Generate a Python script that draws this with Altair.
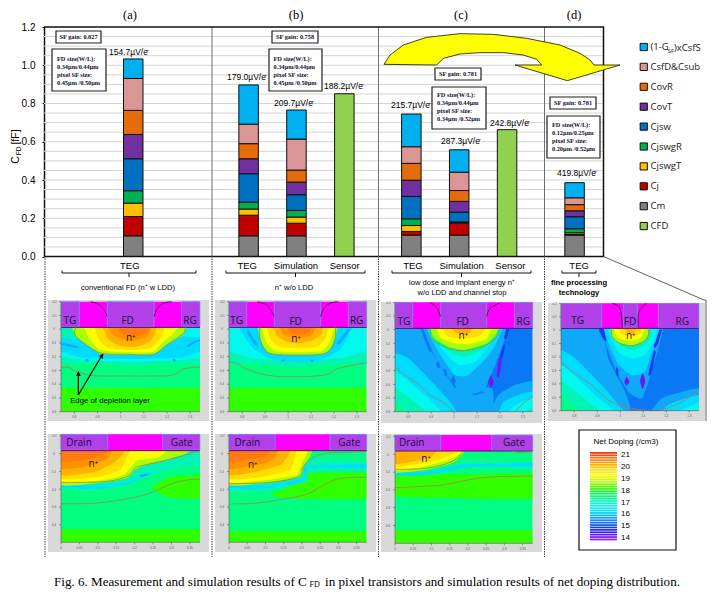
import altair as alt
import pandas as pd

# ---------------- stacked bar data (fF) ----------------
bar_names = ["a TEG", "b TEG", "b Simulation", "b Sensor", "c TEG", "c Simulation", "c Sensor", "d TEG"]
bar_slots = [1.76, 4.17, 5.17, 6.17, 7.57, 8.57, 9.57, 10.98]
components = ["(1-GSF)xCsfS", "CsfD&Csub", "CovR", "CovT", "Cjsw", "CjswgR", "CjswgT", "Cj", "Cm", "CFD"]
comp_colors = ["#00b0f0", "#d99694", "#e46c0a", "#7030a0", "#0070c0", "#00b050", "#ffc000", "#c00000", "#808080", "#92d050"]
Cm = [.108, .108, .108, 0, .112, .112, 0, .112]
Cj = [.101, .108, .066, 0, .019, .062, 0, .003]
CjswgT = [.070, .032, .032, 0, .031, .004, 0, .009]
CjswgR = [.065, .036, .035, 0, .035, .003, 0, .021]
Cjsw = [.167, .149, .082, 0, .117, .051, 0, .063]
CovT = [.127, .078, .066, 0, .085, .056, 0, .031]
CovR = [.126, .079, .063, 0, .088, .057, 0, .032]
CsfD = [.167, .102, .162, 0, .087, .096, 0, .036]
OneG = [.102, .205, .152, 0, .171, .117, 0, .079]
CFD = [0, 0, 0, .851, 0, 0, .663, 0]
stack_order = [("Cm", Cm), ("Cj", Cj), ("CjswgT", CjswgT), ("CjswgR", CjswgR), ("Cjsw", Cjsw),
               ("CovT", CovT), ("CovR", CovR), ("CsfD&Csub", CsfD), ("(1-GSF)xCsfS", OneG), ("CFD", CFD)]
gain_labels = ["154.7µV/e", "179.0µV/e", "209.7µV/e", "188.2µV/e", "215.7µV/e", "287.3µV/e", "242.8µV/e", "419.8µV/e"]
grid_values = [round(0.05 * i, 2) for i in range(1, 24)]
tick_values = [0, .2, .4, .6, .8, 1.0, 1.2]

# ---------------- doping levels ----------------
LV = {'P': '#6a1cf0', 'B': '#1a3cf0', 'M': '#0a78f5', 'S': '#10a8f8', 'C': '#00dcff', 'Q': '#00f8ee',
      'T': '#00f5b5', 'G': '#00ff80', 'N': '#30ff00', 'L': '#a8ff00', 'Y': '#ffff00', 'A': '#ffdd00',
      'O': '#ffb000', 'R': '#ff9000', 'D': '#ff7a10'}
bar_colors = ["#ff3010", "#ff5010", "#ff7010", "#ff8c10", "#ff9c00", "#ffb000", "#ffc400", "#ffdc00", "#ffee00",
              "#ffff00", "#e8ff00", "#ccff00", "#b0ff00", "#80ff00", "#50ff00", "#30ff00", "#10ff20", "#00ff60",
              "#00ff80", "#00ff98", "#00ffb0", "#00ffc8", "#00f8e0", "#00f0f0", "#00e0ff", "#00ccff", "#00b8ff",
              "#10a0ff", "#1888ff", "#1070f0", "#1058e8", "#1040e0", "#2828e0", "#4020f0", "#6018f0", "#7818f0", "#8c20f0"]
doping_labels = [("21", 455), ("20", 467), ("19", 479), ("18", 491), ("17", 503), ("16", 514), ("15", 526), ("14", 538)]
top_x_labels = ["0.8", "0.9", "1", "1.1", "1.2", "1.3"]
top_y_labels = ["-0.2", "-0.1", "0", "0.1", "0.2", "0.3", "0.4", "0.5", "0.6"]
bot_x_labels = ["0", "0.05", "0.1", "0.15", "0.2", "0.25", "0.3", "0.35"]
bot_y_labels = ["-0.1", "0", "0.1", "0.2", "0.3", "0.4"]

P1 = dict(origin=(20, 295), bg=(48, 209, 300, 421), plot=(123, 540, 20, 97, 350), hatch=[(123, 178), (262, 402), (485, 540)],
  flat=[('G', 123, 540, 97, 350), ('N', 123, 540, 278, 350)],
  blobs=[('T', [(100,90),(330,85),(560,90),(570,205),(470,205),(330,212),(190,205),(90,200)]),
         ('Q', [(100,90),(330,85),(560,90),(570,180),(480,195),(330,200),(190,195),(90,175)]),
         ('C', [(95,120),(130,125),(165,125),(500,125),(540,120),(565,125),(565,165),(480,188),(330,192),(190,188),(100,165)]),
         ('T', [(95,85),(175,85),(180,128),(130,130),(95,122)]),
         ('Q', [(490,85),(565,85),(565,122),(520,125),(495,120)]),
         ('S', [(128,143),(150,148),(172,155),(170,160),(145,154),(126,149)]),
         ('S', [(195,195),(202,191),(208,196),(202,200)]), ('S', [(457,195),(463,191),(469,196),(463,200)]),
         ('S', [(500,152),(520,140),(538,133),(538,138),(520,146),(504,156)]),
         ('L', [(165,90),(165,120),(200,150),(245,177),(320,180),(400,178),(440,150),(490,118),(497,90)]),
         ('Y', [(195,90),(205,125),(240,165),(320,172),(400,170),(430,140),(465,110),(475,90)]),
         ('A', [(225,90),(235,130),(265,160),(330,165),(390,160),(425,125),(435,90)]),
         ('O', [(245,90),(262,130),(300,152),(350,155),(395,135),(415,90)]),
         ('R', [(250,90),(280,120),(330,138),(380,125),(405,90)]),
         ('D', [(265,90),(300,112),(340,125),(380,112),(395,90)])],
  lines=[[(168,97),(165,120),(200,150),(245,175),(320,178),(400,178),(440,150),(490,115),(495,97)],
         [(123,217),(150,218),(175,232),(220,242),(300,243),(400,243),(460,240),(490,222),(540,216)]],
  arcs=[[(212,20),(240,30),(255,50),(262,65)], [(402,65),(412,40),(430,25),(455,20)]],
  labels=[("TG",150,77),("FD",323,77),("RG",510,77),("n⁺",332,130)])
P2 = dict(origin=(20, 295), bg=(215, 376, 300, 421), plot=(627, 1040, 20, 97, 350), hatch=[(627, 680), (763, 902), (985, 1040)],
  flat=[('G', 627, 1040, 97, 350), ('N', 627, 1040, 278, 350)],
  blobs=[('T', [(600,85),(1060,85),(1060,205),(980,205),(830,215),(700,205),(600,200)]),
         ('Q', [(600,85),(1060,85),(1060,160),(960,190),(830,195),(700,190),(600,160)]),
         ('C', [(655,90),(670,120),(705,165),(760,195),(830,200),(900,195),(960,165),(985,120),(1000,90)]),
         ('S', [(685,105),(695,120),(712,148),(706,150),(688,125),(680,108)]),
         ('S', [(958,148),(975,125),(990,105),(983,103),(968,122),(950,145)]),
         ('S', [(785,197),(790,193),(795,197),(790,201)]), ('S', [(870,197),(875,193),(880,197),(875,201)]),
         ('L', [(718,90),(724,140),(750,176),(830,180),(915,176),(942,140),(948,90)]),
         ('Y', [(730,90),(736,135),(765,168),(830,172),(905,168),(932,135),(938,90)]),
         ('A', [(745,90),(750,130),(780,155),(830,160),(890,155),(920,125),(922,90)]),
         ('O', [(755,90),(770,120),(800,140),(840,145),(880,135),(905,115),(908,90)]),
         ('R', [(765,90),(790,118),(830,128),(875,120),(895,90)]),
         ('D', [(780,90),(810,110),(840,118),(870,108),(885,90)])],
  lines=[[(720,97),(722,140),(750,175),(830,180),(915,175),(943,140),(947,97)],
         [(627,202),(650,205),(680,222),(750,242),(830,245),(915,240),(950,222),(1000,210),(1040,203)]],
  arcs=[[(712,20),(740,30),(755,50),(763,65)], [(902,65),(912,40),(930,25),(955,20)]],
  labels=[("TG",650,77),("FD",827,80),("RG",1010,77),("n⁺",828,132)])
P3 = dict(origin=(375, 295), bg=(381, 542, 302, 423), plot=(60, 473, 22, 100, 350), hatch=[(60, 113), (197, 335), (418, 473)],
  flat=[('M', 60, 473, 100, 350)],
  blobs=[('S', [(30,90),(140,90),(170,170),(240,280),(265,360),(30,360)]),
         ('S', [(240,280),(350,280),(350,370),(265,370)]),
         ('C', [(30,180),(100,190),(170,260),(225,320),(240,370),(30,370)]),
         ('Q', [(30,230),(90,250),(160,310),(200,370),(30,370)]),
         ('T', [(30,270),(70,285),(130,330),(160,370),(30,370)]),
         ('G', [(30,300),(60,320),(100,360),(30,370)]),
         ('S', [(350,370),(370,300),(420,270),(500,260),(500,370)]),
         ('C', [(375,370),(385,320),(430,300),(500,290),(500,370)]),
         ('Q', [(400,370),(410,340),(440,320),(500,310),(500,370)]),
         ('T', [(430,370),(470,340),(500,335),(500,370)]),
         ('M', [(265,290),(300,285),(330,292),(300,300)]),
         ('S', [(140,100),(185,195),(240,270),(250,300),(330,280),(400,100)]),
         ('C', [(150,100),(190,170),(240,240),(280,240),(350,170),(385,100)]),
         ('Q', [(160,100),(200,160),(250,210),(300,200),(350,140),(375,100)]),
         ('T', [(165,100),(215,165),(270,185),(335,155),(368,100)]),
         ('G', [(165,95),(170,130),(215,160),(270,170),(335,150),(368,120),(372,95)]),
         ('L', [(170,95),(175,125),(220,155),(270,165),(335,145),(365,115),(368,95)]),
         ('Y', [(185,95),(195,125),(240,145),(280,148),(335,130),(355,95)]),
         ('A', [(190,95),(215,122),(270,130),(320,118),(340,95)]),
         ('O', [(200,90),(240,112),(280,116),(320,103),(335,90)]),
         ('M', [(138,105),(146,105),(170,165),(163,168)]), ('M', [(183,205),(190,200),(196,215),(189,220)]),
         ('M', [(205,225),(212,222),(217,240),(210,242)]), ('M', [(229,255),(235,240),(242,258),(235,272)]),
         ('B', [(402,102),(410,102),(395,130),(388,128)]), ('B', [(385,150),(391,150),(382,190),(375,185)]),
         ('P', [(365,240),(372,190),(381,195),(373,245)]), ('P', [(339,262),(348,240),(356,262),(348,278)])],
  lines=[[(168,100),(170,130),(215,158),(270,167),(335,150),(368,120),(372,100)],
         [(60,217),(90,240),(130,268),(165,300),(210,325),(235,350)], [(420,350),(445,325),(473,305)]],
  arcs=[[(165,22),(185,38),(197,65)], [(335,65),(345,40),(375,24)]],
  labels=[("TG",87,80),("FD",263,80),("RG",445,80),("n⁺",265,122)])
P4 = dict(origin=(375, 295), bg=(548, 705, 303, 421), plot=(558, 972, 25, 100, 347), hatch=[(558, 680), (745, 787), (850, 972)],
  flat=[('M', 558, 972, 100, 347)],
  blobs=[('S', [(530,90),(670,90),(700,190),(750,290),(760,370),(530,370)]),
         ('C', [(530,170),(600,190),(680,270),(740,340),(750,370),(530,370)]),
         ('Q', [(530,210),(590,235),(660,300),(710,340),(720,370),(530,370)]),
         ('T', [(530,250),(570,265),(640,320),(680,370),(530,370)]),
         ('G', [(530,290),(580,320),(620,370),(530,370)]),
         ('S', [(830,370),(860,310),(920,290),(1000,280),(1000,370)]),
         ('C', [(860,370),(880,330),(930,310),(1000,300),(1000,370)]),
         ('Q', [(900,370),(930,340),(1000,320),(1000,370)]),
         ('S', [(675,100),(720,220),(760,290),(800,310),(830,230),(865,100)]),
         ('C', [(680,100),(725,200),(770,240),(810,230),(845,130),(860,100)]),
         ('Q', [(690,100),(730,170),(770,190),(810,180),(840,130),(845,100)]),
         ('T', [(700,100),(735,150),(770,165),(810,150),(830,110)]),
         ('L', [(708,95),(712,125),(735,145),(770,152),(805,140),(820,120),(820,95)]),
         ('Y', [(715,95),(725,125),(765,138),(800,125),(812,95)]),
         ('A', [(725,95),(740,118),(770,125),(795,115),(805,95)]),
         ('O', [(735,90),(755,112),(780,112),(795,90)]),
         ('B', [(672,105),(678,103),(694,135),(689,138)]), ('B', [(724,215),(730,225),(730,245),(724,240)]),
         ('B', [(853,105),(860,106),(848,150),(840,148)]), ('B', [(836,170),(842,172),(830,235),(820,240)]),
         ('P', [(748,260),(755,245),(763,260),(755,272)]), ('P', [(795,258),(803,235),(811,258),(803,283)]),
         ('P', [(838,145),(846,145),(842,158),(836,155)])],
  lines=[[(710,100),(712,125),(735,145),(770,152),(805,140),(820,120),(820,100)],
         [(558,203),(600,235),(650,270),(700,315),(750,335),(800,345),(860,345),(920,320),(972,288)]],
  arcs=[[(712,25),(735,40),(742,97)], [(790,97),(792,50),(815,25)]],
  labels=[("TG",608,78),("FD",765,80),("RG",922,80),("n⁺",767,123)])
P5 = dict(origin=(20, 425), bg=(48, 209, 434, 552), plot=(123, 540, 28, 77, 352), hatch=[(123, 263), (428, 540)],
  flat=[('G', 123, 540, 77, 352), ('N', 123, 540, 313, 352)],
  blobs=[('N', [(398,185),(450,155),(540,150),(570,150),(570,218),(450,218),(410,200)]),
         ('T', [(100,185),(300,182),(345,170),(400,150),(480,125),(570,120),(570,70),(100,70)]),
         ('C', [(100,180),(240,183),(330,172),(345,155),(380,143),(400,145),(360,157),(330,178),(240,192),(100,190)]),
         ('S', [(360,150),(385,146),(380,152),(362,155)]),
         ('L', [(100,178),(250,172),(320,160),(345,135),(370,122),(440,105),(500,85),(550,75),(550,60),(100,60)]),
         ('Y', [(100,170),(250,165),(310,150),(335,125),(355,105),(420,95),(480,75),(480,60),(100,60)]),
         ('A', [(100,160),(240,155),(300,135),(320,100),(345,80),(345,60),(100,60)]),
         ('O', [(100,148),(220,142),(280,115),(310,85),(310,60),(100,60)]),
         ('R', [(100,130),(210,122),(265,100),(290,77),(290,60),(100,60)]),
         ('D', [(100,110),(190,105),(250,90),(272,77),(272,60),(100,60)])],
  lines=[[(123,172),(250,170),(320,155),(345,130),(365,122),(440,105),(540,77)],
         [(123,236),(220,235),(300,225),(380,208),(450,178),(500,165),(540,162)]],
  arcs=[], labels=[("Drain",177,53),("Gate",485,53),("n⁺",220,118)])
P6 = dict(origin=(20, 425), bg=(215, 376, 434, 552), plot=(627, 1040, 28, 77, 352), hatch=[(627, 765), (930, 1040)],
  flat=[('G', 627, 1040, 77, 352), ('N', 627, 1040, 318, 352)],
  blobs=[('N', [(755,205),(800,190),(860,145),(1040,143),(1070,143),(1070,220),(800,220),(760,210)]),
         ('T', [(600,195),(740,195),(860,170),(870,140),(1060,135),(1060,110),(900,100),(600,70)]),
         ('C', [(600,180),(740,182),(840,162),(855,150),(855,125),(1050,118),(1050,128),(870,130),(860,150),(845,170),(740,192),(600,190)]),
         ('L', [(600,178),(750,172),(840,155),(853,120),(870,95),(890,78),(890,60),(600,60)]),
         ('Y', [(600,170),(740,165),(830,150),(845,115),(858,90),(870,75),(870,60),(600,60)]),
         ('A', [(600,160),(730,155),(810,135),(825,100),(835,75),(835,60),(600,60)]),
         ('O', [(600,148),(700,142),(780,120),(805,90),(810,60),(600,60)]),
         ('R', [(600,130),(700,122),(760,105),(785,78),(785,60),(600,60)]),
         ('D', [(600,110),(680,105),(740,92),(770,78),(770,60),(600,60)])],
  lines=[[(627,176),(750,172),(835,155),(850,125),(875,100),(920,85),(1040,80)],
         [(635,236),(705,235),(790,222),(860,208),(930,170),(980,158),(1040,157)]],
  arcs=[], labels=[("Drain",682,55),("Gate",988,53),("n⁺",698,120)])
P7 = dict(origin=(375, 425), bg=(381, 542, 434, 552), plot=(60, 473, 30, 78, 355), hatch=[(60, 197), (350, 473)],
  flat=[('G', 60, 473, 78, 355), ('N', 60, 473, 315, 355)],
  blobs=[('N', [(40,155),(120,150),(300,148),(490,148),(490,220),(180,218),(40,212)]),
         ('C', [(40,140),(150,140),(240,122),(280,115),(490,113),(490,125),(280,127),(160,150),(40,152)]),
         ('L', [(40,140),(150,135),(230,115),(265,85),(265,60),(40,60)]),
         ('Y', [(40,132),(130,128),(220,105),(255,85),(255,60),(40,60)]),
         ('A', [(40,125),(120,118),(190,105),(235,85),(235,60),(40,60)]),
         ('O', [(40,115),(110,110),(170,95),(210,78),(210,60),(40,60)])],
  lines=[[(60,133),(150,130),(225,112),(262,85)], [(60,188),(200,180),(320,158),(473,153)], [(410,78),(430,82),(473,80)]],
  arcs=[], labels=[("Drain",110,53),("Gate",417,53),("n⁺",153,102)])
panels = [P1, P2, P3, P4, P5, P6, P7]

# yellow arrow outline (crop coordinates)
arrow_outline = [(72,193),(90,165),(130,135),(200,112),(300,101),(400,103),(500,115),(600,135),(660,160),(690,180),
                 (702,195),(780,195),(622,242),(465,195),(545,195),(530,178),(490,165),(430,158),(360,158),(300,162),(250,175),(230,195)]

# ---------------- helpers ----------------
W, H = 701, 584
SX = alt.Scale(domain=[0, 717], range=[-8, 709], nice=False, zero=False)
SY = alt.Scale(domain=[0, 594], range=[-8, 586], nice=False, zero=False)
BARX = alt.Scale(domain=[0, 11.48], range=[36, 595.5], nice=False, zero=False)
BARY = alt.Scale(domain=[0, 1.2], range=[248.5, 19], nice=False, zero=False)
X = alt.X("x:Q", scale=SX, axis=None)
Y = alt.Y("y:Q", scale=SY, axis=None)
layers = []

def win(o, p):
    return (o[0] + p[0] / 3, o[1] + p[1] / 3)

def rects(rows, **mk):
    df = pd.DataFrame(rows, columns=["x", "x2", "y", "y2", "c"])
    return alt.Chart(df).mark_rect(**mk).encode(x=X, x2="x2:Q", y=Y, y2="y2:Q", fill=alt.Fill("c:N", scale=None))

def polys(polylist, interp, **mk):
    rows = []
    for i, (c, pts) in enumerate(polylist):
        for j, (x, y) in enumerate(pts):
            rows.append(dict(pid=f"{i:04d}", o=j, x=x, y=y, c=c))
    return alt.Chart(pd.DataFrame(rows)).mark_line(interpolate=interp, **mk).encode(
        x=X, y=Y, order="o:Q", detail="pid:N", fill=alt.Fill("c:N", scale=None, legend=None))

def lines(linelist, interp="linear", **mk):
    rows = []
    for i, pts in enumerate(linelist):
        for j, (x, y) in enumerate(pts):
            rows.append(dict(pid=f"{i:04d}", o=j, x=x, y=y))
    return alt.Chart(pd.DataFrame(rows)).mark_line(interpolate=interp, **mk).encode(
        x=X, y=Y, order="o:Q", detail="pid:N")

def text(rows, size, font="Liberation Sans", color="#000000", align="center", **mk):
    df = pd.DataFrame(rows, columns=["t", "x", "y"])
    return alt.Chart(df).mark_text(fontSize=size, font=font, color=color, align=align, baseline="middle", **mk).encode(
        x=X, y=Y, text="t:N")

# ---------------- gridlines under bars ----------------
grid_df = pd.DataFrame({"v": grid_values})
layers.append(alt.Chart(grid_df).mark_rule(color="#d4d4d4", strokeWidth=1).encode(
    y=alt.Y("v:Q", scale=BARY, axis=None), x=alt.value(36), x2=alt.value(595.5)))

# separators
layers.append(lines([[(212, 27), (212, 256)], [(378.5, 27), (378.5, 256)], [(544.5, 27), (544.5, 256)]],
                    stroke="#707070", strokeWidth=1))

# ---------------- bars ----------------
rows = []
for name, vals in stack_order:
    for i, v in enumerate(vals):
        if v > 0:
            base = sum(s[i] for _, s in stack_order[:[n for n, _ in stack_order].index(name)])
            rows.append(dict(slot=bar_slots[i], comp=name, y0=base, y1=base + v))
bar_df = pd.DataFrame(rows)
layers.append(alt.Chart(bar_df).mark_bar(width=19.5, stroke="#101010", strokeWidth=1).encode(
    x=alt.X("slot:Q", scale=BARX, axis=None),
    y=alt.Y("y0:Q", scale=BARY, title=None,
            axis=alt.Axis(values=tick_values, format=".1f", offset=-36, orient="left", grid=False, domainColor="#101010",
                          domainWidth=1.5, tickColor="#101010", tickSize=2, labelFont="Liberation Sans", labelFontSize=10,
                          labelColor="#000000", labelPadding=7)),
    y2="y1:Q",
    color=alt.Color("comp:N", scale=alt.Scale(domain=components, range=comp_colors), title=None,
                    legend=alt.Legend(orient="none", legendX=631, legendY=33, symbolType="square", symbolSize=52,
                                      symbolStrokeColor="#101010", symbolStrokeWidth=1, labelFont="Open Sans",
                                      labelFontSize=9.5, labelColor="#202020", clipHeight=12, rowPadding=7.9, labelOffset=2,
                                      labelLimit=70, symbolOpacity=1,
                                      labelExpr="datum.label == '(1-GSF)xCsfS' ? '(1-G' : datum.label")),
    tooltip=alt.value(None)))
layers.append(text([("SF", 671, 51)], 6, font="Open Sans", color="#202020"))
layers.append(text([(")xCsfS", 674, 48)], 9.5, font="Open Sans", color="#202020", align="left"))

# plot frame
layers.append(lines([[(44, 27), (603.5, 27), (603.5, 256.5), (44, 256.5)]], stroke="#101010", strokeWidth=1.5))

# gain labels above bars
gain_pos = [(109, 52), (227, 77), (274, 103), (324, 86), (391, 105), (441, 141), (490, 123), (557, 173)]
layers.append(text([(g, p[0], p[1]) for g, p in zip(gain_labels, gain_pos)], 8.5, align="left"))
layers.append(text([("-", p[0] + 37.5, p[1] - 2) for p in gain_pos], 7, align="left"))

# panel titles, category labels, braces
layers.append(text([("(a)", 130, 15), ("(b)", 296, 15), ("(c)", 461, 15), ("(d)", 574, 15)], 12.5, font="Liberation Serif"))
cat_labels = ["TEG", "TEG", "Simulation", "Sensor", "TEG", "Simulation", "Sensor", "TEG"]
cat_df = pd.DataFrame({"slot": bar_slots, "t": cat_labels})
layers.append(alt.Chart(cat_df).mark_text(fontSize=9.5, font="Liberation Sans", color="#000000", baseline="middle").encode(
    x=alt.X("slot:Q", scale=BARX, axis=None), y=alt.value(257.5), text="t:N"))
braces = [(62, 196), (226, 365), (392, 531), (562, 596)]
brace_lines = []
for a, b in braces:
    brace_lines.append([(a, 270.5), (a, 273), (b, 273), (b, 270.5)])
    brace_lines.append([((a + b) / 2, 273), ((a + b) / 2, 277)])
layers.append(lines(brace_lines, stroke="#101010", strokeWidth=1))
layers.append(text([("conventional FD (n⁺ w LDD)", 128, 288), ("n⁺ w/o LDD", 294, 288),
                    ("low dose and implant energy n⁺", 462, 283), ("w/o LDD and channel stop", 462, 293)], 7.6))
layers.append(text([("fine processing", 579, 283), ("technology", 579, 293)], 7.6, fontWeight="bold"))

# y title
layers.append(text([("C", 15.5, 160)], 10.5, angle=270))
layers.append(text([("FD", 18.5, 151)], 6.5, angle=270))
layers.append(text([("[fF]", 15.5, 137)], 10.5, angle=270))

# ---------------- heat-map panels ----------------
bg_rows, flat_rows, frame_rows, top_rows, hatch_rows = [], [], [], [], []
blob_list, line_list, arc_list, label_rows, tick_lines, tiny_rows = [], [], [], [], [], []
for idx, p in enumerate(panels):
    o = p["origin"]
    x0, x1, yt, ym, yb = p["plot"]
    X0, Ym = win(o, (x0, ym))
    X1, Yb = win(o, (x1, yb))
    _, Yt = win(o, (x0, yt))
    bx0, bx1, by0, by1 = p["bg"]
    bg_rows.append((bx0, bx1, by0, by1, "#d9d9d9"))
    for lv, a, b, c, d in p["flat"]:
        A, C = win(o, (a, c))
        B, D = win(o, (b, d))
        flat_rows.append((A, B, C, D, LV[lv]))
    for lv, pts in p["blobs"]:
        wp = []
        for q in pts:
            qy = q[1] - 35 if q[1] <= ym + 3 else q[1]      # lift vertices that sit under the electrode strip
            wx, wy = win(o, (q[0], qy))
            wp.append((min(max(wx, X0 - 3), X1 + 3), min(max(wy, Yt + 2), Yb + 3)))
        blob_list.append((LV[lv], wp))
    frame_rows += [(bx0, X0, by0, by1, "#d9d9d9"), (X1, bx1, by0, by1, "#d9d9d9"),
                   (bx0, bx1, Yb, by1, "#d9d9d9"), (bx0, bx1, by0, Yt, "#d9d9d9")]
    top_rows.append((X0, X1, Yt, Ym, "#ff00ff"))
    for a, b in p["hatch"]:
        A, _ = win(o, (a, 0))
        B, _ = win(o, (b, 0))
        hatch_rows.append((A, B, Yt, Ym - 0.5, "#b240ea"))
    line_list += [[win(o, q) for q in l] for l in p["lines"]]
    arc_list += [[win(o, q) for q in l] for l in p["arcs"]]
    label_rows += [(t, *win(o, (a, b))) for t, a, b in p["labels"]]
    tick_lines.append([(X0, Yt), (X0, Yb), (X1, Yb)])
    ylabs = top_y_labels if idx < 4 else bot_y_labels
    xlabs = top_x_labels if idx < 4 else bot_x_labels
    yspan = (Yb - Yt) if idx < 4 else (Yb - Yt) * 0.93
    for k, lab in enumerate(ylabs):
        yy = Yt + yspan * k / (len(ylabs) - 1) if idx < 4 else Yt + 1.5 + 17.8 * k
        tick_lines.append([(X0 - 2, yy), (X0, yy)])
        tiny_rows.append((lab, X0 - 7, yy))
    for k, lab in enumerate(xlabs):
        xx = X0 + (X1 - X0) * (k + 0.575) / 6 if idx < 4 else X0 + (X1 - X0) * k / 7.55
        tick_lines.append([(xx, Yb), (xx, Yb + 2)])
        tiny_rows.append((lab, xx, Yb + 5))

layers.append(rects(bg_rows))
layers.append(rects(flat_rows))
layers.append(polys(blob_list, "cardinal-closed", strokeWidth=0, tension=0.5))
layers.append(rects(frame_rows))
# white gutters hide any contour overshoot beside the gray frames
gutters = [(40, 48, 296, 424, "#ffffff"), (209, 215, 296, 424, "#ffffff"), (376, 381, 296, 424, "#ffffff"), (542, 548, 296, 424, "#ffffff"),
           (705, 717, 296, 424, "#ffffff"), (40, 48, 430, 555, "#ffffff"), (209, 215, 430, 555, "#ffffff"), (376, 381, 430, 555, "#ffffff"),
           (542, 578, 430, 555, "#ffffff")]
layers.append(rects(gutters))
layers.append(lines([[(45, 256), (45, 557)], [(212, 256), (212, 557)], [(378.5, 256), (378.5, 557)], [(544.5, 256), (544.5, 557)]],
                    stroke="#404040", strokeWidth=1, strokeDash=[1.5, 1]))
layers.append(lines([[(603.5, 256.5), (704, 300), (706, 300), (706, 421)]], stroke="#606060", strokeWidth=1))
layers.append(rects(top_rows))
layers.append(rects(hatch_rows, stroke="#70a0f0", strokeWidth=0.7))
layers.append(lines([[(win(p["origin"], (p["plot"][0], p["plot"][3]))[0], win(p["origin"], (0, p["plot"][3]))[1]),
                      (win(p["origin"], (p["plot"][1], p["plot"][3]))[0], win(p["origin"], (0, p["plot"][3]))[1])] for p in panels],
                    stroke="#600070", strokeWidth=1))
layers.append(lines(arc_list, "cardinal", stroke="#202020", strokeWidth=0.8))
layers.append(lines(line_list, "cardinal", stroke="#b07a50", strokeWidth=0.8))
layers.append(lines(tick_lines, stroke="#555555", strokeWidth=0.6))
layers.append(text(tiny_rows, 3, color="#555555"))
layers.append(text(label_rows, 10, font="Open Sans", color="#101030"))

# annotation arrows in panel (a)
o1 = (20, 295)
layers.append(lines([[win(o1, (175, 300)), win(o1, (175, 235))], [win(o1, (175, 300)), win(o1, (243, 186))]],
                    stroke="#000000", strokeWidth=1.2))
layers.append(polys([("#000000", [win(o1, q) for q in [(168, 242), (175, 228), (182, 242)]]),
                     ("#000000", [win(o1, q) for q in [(237, 183), (250, 176), (248, 192)]])], "linear-closed", strokeWidth=0))
layers.append(text([("Edge of depletion layer", *win(o1, (270, 318)))], 7.8))

# ---------------- net doping key ----------------
layers.append(rects([(579, 676, 430, 550, "#ffffff")], stroke="#101010", strokeWidth=1.2))
cb_rows = []
step = (541 - 452) / len(bar_colors)
for i, c in enumerate(bar_colors):
    cb_rows.append((590, 617, 452 + i * step, 452 + (i + 0.72) * step, c))
layers.append(rects(cb_rows))
layers.append(text([("Net Doping (/cm3)", 626, 442)], 8))
layers.append(text([(t, 621, y) for t, y in doping_labels], 8, align="left"))

# ---------------- text boxes ----------------
box_rows = [(56, 101, 31, 43, "#ffffff"), (52, 106, 49, 91, "#ffffff"), (272, 318, 31, 43, "#ffffff"), (269, 322, 49, 91, "#ffffff"),
            (547, 600, 116, 158, "#ffffff"), (550, 596, 97, 109, "#ffffff")]
arrow_poly = [("#ffff00", [win((360, 0), q) for q in arrow_outline])]
layers.append(rects(box_rows, stroke="#202020", strokeWidth=1.2))
layers.append(polys(arrow_poly, "linear-closed", stroke="#101010", strokeWidth=0.8))
layers.append(rects([(435, 481, 68, 80, "#ffffff"), (432, 486, 87, 129, "#ffffff")], stroke="#202020", strokeWidth=1.2))
sf_rows = [("SF gain: 0.827", 78.5, 37), ("SF gain: 0.758", 295, 37), ("SF gain: 0.781", 458, 74), ("SF gain: 0.781", 573, 103)]
layers.append(text(sf_rows, 6.3, font="Liberation Serif", color="#101030", fontWeight="bold"))
fd_rows = []
for x, y, lns in [(57, 58.5, ["FD size(W/L):", "0.34µm/0.44µm", "pixel SF size:", "0.45µm /0.50µm"]),
                  (273.5, 58.5, ["FD size(W/L):", "0.34µm/0.44µm", "pixel SF size:", "0.45µm /0.50µm"]),
                  (437, 95, ["FD size(W/L):", "0.34µm/0.44µm", "pixel SF size:", "0.34µm /0.52µm"]),
                  (552, 125, ["FD size(W/L):", "0.12µm/0.25µm", "pixel SF size:", "0.20µm /0.52µm"])]:
    for k, s in enumerate(lns):
        fd_rows.append((s, x, y + k * 8))
layers.append(text(fd_rows, 6.3, font="Liberation Serif", color="#101030", align="left", fontWeight="bold"))

# ---------------- caption ----------------
layers.append(text([("Fig. 6. Measurement and simulation results of C", 54, 582),
                     ("in pixel transistors and simulation results of net doping distribution.", 325, 582)],
                    13.1, font="Liberation Serif", align="left"))
layers.append(text([("FD", 309.5, 584.5)], 8, font="Liberation Serif", align="left"))

chart = alt.layer(*layers).resolve_scale(x="independent", y="independent", color="independent", fill="independent").properties(
    width=W, height=H, padding=0, autosize=alt.AutoSizeParams(type="none")).configure_view(stroke=None)
chart.save("out.html", embed_options={"renderer": "svg", "actions": False})
